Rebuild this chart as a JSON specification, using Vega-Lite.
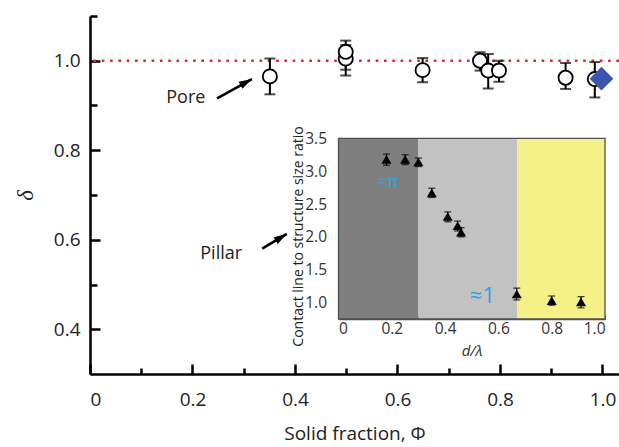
{
  "$schema": "https://vega.github.io/schema/vega-lite/v6.json",
  "width": 529,
  "height": 358,
  "autosize": "none",
  "padding": {"left": 90, "top": 16, "right": 0, "bottom": 73},
  "background": "white",
  "config": {
    "view": {"stroke": null},
    "font": "Open Sans",
    "axis": {"grid": false, "labelFont": "Open Sans", "titleFont": "Open Sans", "titleFontWeight": "normal"}
  },
  "datasets": {
    "main": [
      {"phi": 0.351, "delta": 0.965, "lo": 0.925, "hi": 1.005},
      {"phi": 0.499, "delta": 1.005, "lo": 0.967, "hi": 1.035},
      {"phi": 0.499, "delta": 1.02, "lo": 0.98, "hi": 1.045},
      {"phi": 0.649, "delta": 0.979, "lo": 0.952, "hi": 1.006},
      {"phi": 0.761, "delta": 1.0, "lo": 0.978, "hi": 1.019},
      {"phi": 0.777, "delta": 0.978, "lo": 0.938, "hi": 1.015},
      {"phi": 0.798, "delta": 0.978, "lo": 0.953, "hi": 1.0},
      {"phi": 0.928, "delta": 0.962, "lo": 0.937, "hi": 0.995},
      {"phi": 0.985, "delta": 0.959, "lo": 0.918, "hi": 0.997}
    ],
    "blue": [{"phi": 0.998, "delta": 0.96}],
    "ref": [{"delta": 1.0}],
    "arrows": [
      {"x0": 0.248, "y0": 0.916, "x1": 0.316, "y1": 0.959, "ang": 61.5},
      {"x0": 0.336, "y0": 0.58, "x1": 0.384, "y1": 0.613, "ang": 59}
    ],
    "notes": [
      {"phi": 0.187, "delta": 0.916, "label": "Pore"},
      {"phi": 0.256, "delta": 0.569, "label": "Pillar"}
    ],
    "inset": [
      {"dl": 0.18, "r": 3.18, "lo": 3.09, "hi": 3.26},
      {"dl": 0.25, "r": 3.18, "lo": 3.1, "hi": 3.25},
      {"dl": 0.3, "r": 3.14, "lo": 3.07, "hi": 3.2},
      {"dl": 0.35, "r": 2.67, "lo": 2.6, "hi": 2.74},
      {"dl": 0.41, "r": 2.31, "lo": 2.23, "hi": 2.38},
      {"dl": 0.447, "r": 2.17, "lo": 2.09, "hi": 2.24},
      {"dl": 0.46, "r": 2.07, "lo": 2.0, "hi": 2.14},
      {"dl": 0.669, "r": 1.13, "lo": 1.04, "hi": 1.22},
      {"dl": 0.8, "r": 1.03, "lo": 0.96, "hi": 1.1},
      {"dl": 0.91, "r": 1.01, "lo": 0.92, "hi": 1.09}
    ],
    "bands": [
      {"a": 0, "b": 0.3, "region": "dark"},
      {"a": 0.3, "b": 0.67, "region": "light"},
      {"a": 0.67, "b": 1.0, "region": "yellow"}
    ],
    "insetNotes": [
      {"dl": 0.186, "r": 2.83, "label": "≈π", "fs": 17},
      {"dl": 0.54, "r": 1.1, "label": "≈1", "fs": 22}
    ]
  },
  "resolve": {"scale": {"x": "independent", "y": "independent"}, "axis": {"x": "independent", "y": "independent"}},
  "layer": [
    {
      "resolve": {"axis": {"x": "independent", "y": "independent"}},
      "layer": [
        {
          "data": {"name": "ref"},
          "mark": {"type": "rule", "color": "#e3262b", "strokeWidth": 2.6, "strokeDash": [2.6, 5.7]},
          "encoding": {
            "y": {"field": "delta", "type": "quantitative",
              "scale": {"domain": [0.3, 1.1], "nice": false, "zero": false},
              "axis": {"orient": "left", "values": [0.5, 0.7, 0.9, 1.1], "labels": false, "domain": false, "title": null,
                "tickSize": -7, "tickWidth": 2.5, "tickColor": "black"}}
          }
        },
        {
          "data": {"name": "main"},
          "mark": {"type": "rule", "color": "black", "strokeWidth": 2},
          "encoding": {
            "x": {"field": "phi", "type": "quantitative",
              "scale": {"domain": [0, 1.0322], "nice": false, "zero": false},
              "axis": {"orient": "bottom", "values": [0.1, 0.3, 0.5, 0.7, 0.9], "labels": false, "domain": false, "title": null,
                "tickSize": -6, "tickWidth": 2.5, "tickColor": "black"}},
            "y": {"field": "lo", "type": "quantitative", "axis": null},
            "y2": {"field": "hi"}
          }
        },
        {
          "data": {"name": "main"},
          "mark": {"type": "tick", "orient": "horizontal", "color": "black", "size": 11, "thickness": 2},
          "encoding": {
            "x": {"field": "phi", "type": "quantitative", "axis": null},
            "y": {"field": "lo", "type": "quantitative", "axis": null}
          }
        },
        {
          "data": {"name": "main"},
          "mark": {"type": "tick", "orient": "horizontal", "color": "black", "size": 11, "thickness": 2},
          "encoding": {
            "x": {"field": "phi", "type": "quantitative", "axis": null},
            "y": {"field": "hi", "type": "quantitative", "axis": null}
          }
        },
        {
          "data": {"name": "main"},
          "mark": {"type": "point", "shape": "circle", "size": 200, "fill": "white", "stroke": "black", "strokeWidth": 1.8, "opacity": 1, "filled": false, "fillOpacity": 1},
          "encoding": {
            "x": {"field": "phi", "type": "quantitative",
              "axis": {"orient": "bottom", "values": [0, 0.2, 0.4, 0.6, 0.8, 1.0],
                "labelExpr": "datum.value === 0 ? '0' : format(datum.value, '.1f')",
                "domainColor": "black", "domainWidth": 2.5, "tickColor": "black", "tickWidth": 2.5, "tickSize": -10,
                "labelFontSize": 19, "labelColor": "#222", "labelBaseline": "middle", "labelPadding": 35,
                "title": "Solid fraction, Φ", "titleFontSize": 19, "titleColor": "#222", "titleBaseline": "middle", "titleY": 59}},
            "y": {"field": "delta", "type": "quantitative",
              "axis": {"orient": "left", "values": [0.4, 0.6, 0.8, 1.0], "format": ".1f",
                "domainColor": "black", "domainWidth": 2.5, "tickColor": "black", "tickWidth": 2.5, "tickSize": -10,
                "labelFontSize": 19, "labelColor": "#222", "labelPadding": 20,
                "title": "δ", "titleFont": "Liberation Serif", "titleFontStyle": "italic", "titleFontSize": 23, "titleColor": "#222",
                "titleBaseline": "middle", "titleX": -65, "titleY": 179}}
          }
        },
        {
          "data": {"name": "blue"},
          "mark": {"type": "point", "shape": "diamond", "size": 560, "filled": true, "color": "#3b55ad", "opacity": 1},
          "encoding": {
            "x": {"field": "phi", "type": "quantitative", "axis": null},
            "y": {"field": "delta", "type": "quantitative", "axis": null}
          }
        },
        {
          "data": {"name": "arrows"},
          "mark": {"type": "rule", "color": "black", "strokeWidth": 2.6},
          "encoding": {
            "x": {"field": "x0", "type": "quantitative", "axis": null},
            "y": {"field": "y0", "type": "quantitative", "axis": null},
            "x2": {"field": "x1"},
            "y2": {"field": "y1"}
          }
        },
        {
          "data": {"name": "arrows"},
          "mark": {"type": "point", "shape": "M0,0L0.6,2L-0.6,2Z", "size": 169, "filled": true, "color": "black", "opacity": 1},
          "encoding": {
            "x": {"field": "x1", "type": "quantitative", "axis": null},
            "y": {"field": "y1", "type": "quantitative", "axis": null},
            "angle": {"field": "ang", "type": "quantitative", "scale": null}
          }
        },
        {
          "data": {"name": "notes"},
          "mark": {"type": "text", "fontSize": 18, "color": "#222", "align": "center", "baseline": "middle"},
          "encoding": {
            "x": {"field": "phi", "type": "quantitative", "axis": null},
            "y": {"field": "delta", "type": "quantitative", "axis": null},
            "text": {"field": "label"}
          }
        }
      ]
    },
    {
      "resolve": {"axis": {"x": "independent", "y": "independent"}},
      "layer": [
        {
          "data": {"name": "bands"},
          "mark": {"type": "rect"},
          "encoding": {
            "x": {"field": "a", "type": "quantitative",
              "scale": {"domain": [0, 1], "range": [248.5, 515], "nice": false, "zero": false},
              "axis": {"orient": "bottom", "offset": -55, "values": [0.1, 0.3, 0.5, 0.7, 0.9], "labels": false, "domain": false, "title": null,
                "tickSize": -3, "tickWidth": 1, "tickColor": "#444"}},
            "x2": {"field": "b"},
            "y": {"datum": 0.75, "type": "quantitative",
              "scale": {"domain": [0.75, 3.5], "range": [303, 122.3], "nice": false, "zero": false},
              "axis": {"orient": "left", "offset": -248.5, "values": [1.25, 1.75, 2.25, 2.75, 3.25], "labels": false, "domain": false, "title": null,
                "tickSize": -3, "tickWidth": 1, "tickColor": "#444"}},
            "y2": {"datum": 3.5},
            "color": {"field": "region", "type": "nominal", "legend": null,
              "scale": {"domain": ["dark", "light", "yellow"], "range": ["#7f7f7f", "#c2c2c2", "#f5f087"]}}
          }
        },
        {
          "data": {"values": [{}]},
          "mark": {"type": "rect", "fillOpacity": 0, "stroke": "#505050", "strokeWidth": 1.3},
          "encoding": {
            "x": {"datum": 0, "type": "quantitative", "axis": null},
            "x2": {"datum": 1},
            "y": {"datum": 0.75, "type": "quantitative", "axis": null},
            "y2": {"datum": 3.5}
          }
        },
        {
          "data": {"name": "inset"},
          "mark": {"type": "rule", "color": "black", "strokeWidth": 1.2},
          "encoding": {
            "x": {"field": "dl", "type": "quantitative", "axis": null},
            "y": {"field": "lo", "type": "quantitative", "axis": null},
            "y2": {"field": "hi"}
          }
        },
        {
          "data": {"name": "inset"},
          "mark": {"type": "tick", "orient": "horizontal", "color": "black", "size": 7, "thickness": 1.3},
          "encoding": {
            "x": {"field": "dl", "type": "quantitative", "axis": null},
            "y": {"field": "lo", "type": "quantitative", "axis": null}
          }
        },
        {
          "data": {"name": "inset"},
          "mark": {"type": "tick", "orient": "horizontal", "color": "black", "size": 7, "thickness": 1.3},
          "encoding": {
            "x": {"field": "dl", "type": "quantitative", "axis": null},
            "y": {"field": "hi", "type": "quantitative", "axis": null}
          }
        },
        {
          "data": {"name": "inset"},
          "mark": {"type": "point", "shape": "triangle-up", "size": 100, "filled": true, "color": "black", "opacity": 1},
          "encoding": {
            "x": {"field": "dl", "type": "quantitative",
              "axis": {"orient": "bottom", "offset": -55, "values": [0, 0.2, 0.4, 0.6, 0.8, 1.0],
                "labelExpr": "datum.value === 0 ? '0' : format(datum.value, '.1f')",
                "domainColor": "#505050", "domainWidth": 1.3, "tickColor": "#444", "tickWidth": 1, "tickSize": -4,
                "labelFontSize": 15.5, "labelColor": "#333", "labelBaseline": "middle", "labelPadding": 13,
                "title": "d/λ", "titleFontSize": 15, "titleFontStyle": "italic", "titleColor": "#333", "titleBaseline": "middle", "titleY": 31}},
            "y": {"field": "r", "type": "quantitative",
              "axis": {"orient": "left", "offset": -248.5, "values": [1.0, 1.5, 2.0, 2.5, 3.0, 3.5], "format": ".1f",
                "domainColor": "#505050", "domainWidth": 1.3, "tickColor": "#444", "tickWidth": 1, "tickSize": -4,
                "labelFontSize": 15.5, "labelColor": "#333", "labelPadding": 16,
                "title": "Contact line to structure size ratio", "titleFontSize": 14, "titleColor": "#222",
                "titleBaseline": "middle", "titleX": -40, "titleY": 220}}
          }
        },
        {
          "data": {"name": "insetNotes"},
          "mark": {"type": "text", "color": "#2ea3e3", "align": "center", "baseline": "middle"},
          "encoding": {
            "x": {"field": "dl", "type": "quantitative", "axis": null},
            "y": {"field": "r", "type": "quantitative", "axis": null},
            "text": {"field": "label"},
            "size": {"field": "fs", "type": "quantitative", "scale": null}
          }
        }
      ]
    }
  ]
}
